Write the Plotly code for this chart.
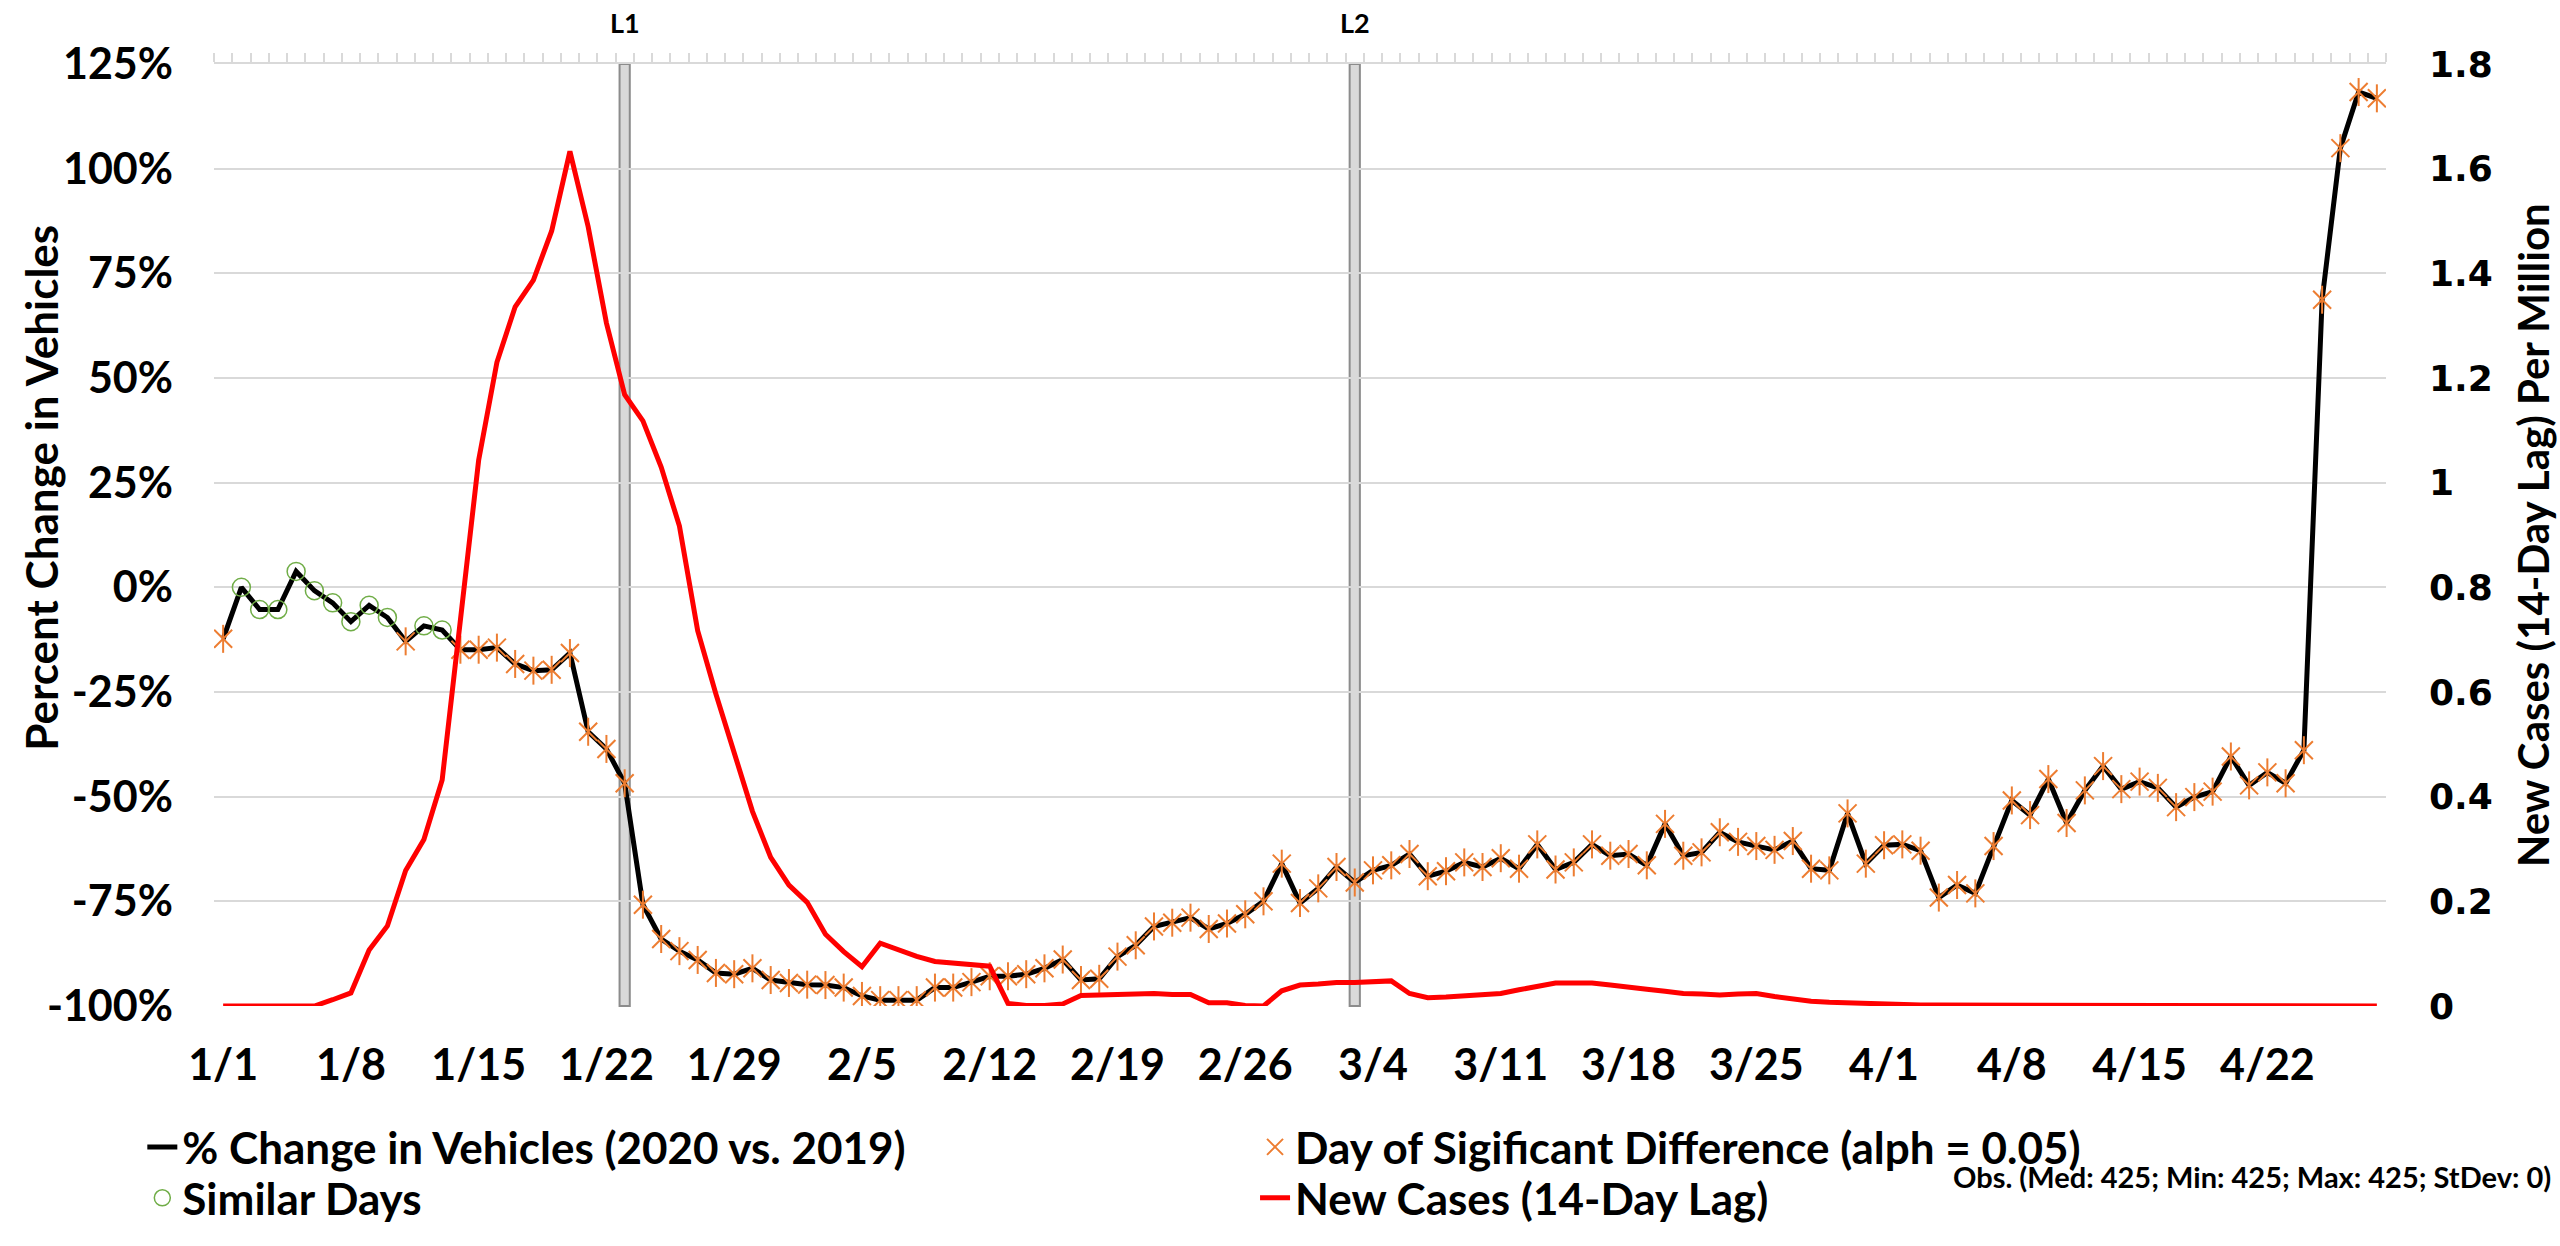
import pandas as pd
import plotly.graph_objects as go

# ------------------------------------------------------------------ #
#  Data                                 #
# ------------------------------------------------------------------ #

dates = [f"{d.month}/{d.day}" for d in pd.date_range("2020-01-01", "2020-04-28")]

pct_change = [
    -12.3, 0.0, -5.3, -5.3, 3.8, -0.8, -3.7, -8.2, -4.3, -7.2,
    -12.9, -9.2, -10.2, -14.9, -14.9, -14.4, -18.3, -19.9, -19.7, -15.7,
    -34.5, -38.6, -46.8, -75.8, -84.0, -86.9, -89.0, -92.1, -92.4, -91.0,
    -93.8, -94.5, -94.9, -95.0, -95.6, -97.6, -98.6, -98.6, -98.6, -95.6,
    -95.6, -94.3, -92.9, -92.9, -92.4, -91.0, -88.9, -93.8, -93.5, -88.2,
    -85.5, -81.0, -80.1, -78.9, -81.6, -80.3, -78.1, -75.0, -66.0, -75.4,
    -71.9, -66.8, -70.5, -67.6, -66.4, -63.7, -69.0, -67.8, -65.7, -66.8,
    -64.7, -67.2, -61.4, -67.4, -65.7, -61.4, -64.1, -63.7, -66.4, -56.5,
    -64.1, -63.3, -58.5, -60.8, -61.8, -62.7, -60.6, -67.2, -67.6, -54.0,
    -66.0, -61.6, -61.4, -62.9, -74.1, -71.1, -73.1, -61.8, -50.9, -54.4,
    -45.8, -56.3, -48.5, -42.7, -48.2, -46.4, -47.9, -52.5, -50.1, -48.8,
    -40.4, -47.3, -44.2, -46.8, -38.9, 68.7, 104.9, 118.3, 116.8,
]

new_cases = [
    0, 0, 0, 0, 0, 0, 0.012, 0.025, 0.107, 0.153,
    0.259, 0.318, 0.432, 0.74, 1.043, 1.230, 1.336, 1.387, 1.481, 1.633,
    1.489, 1.305, 1.168, 1.118, 1.030, 0.917, 0.717, 0.596, 0.482, 0.372,
    0.284, 0.231, 0.198, 0.137, 0.104, 0.075, 0.120, 0.107, 0.095, 0.085,
    0.082, 0.080, 0.076, 0.005, 0.001, 0.001, 0.004, 0.020, 0.021, 0.024,
    0.024, 0.024, 0.022, 0.022, 0.006, 0.006, 0.001, 0.0, 0.029, 0.040,
    0.042, 0.045, 0.045, 0.046, 0.048, 0.024, 0.016, 0.017, 0.020, 0.022,
    0.024, 0.031, 0.037, 0.044, 0.044, 0.044, 0.040, 0.037, 0.032, 0.028,
    0.024, 0.023, 0.021, 0.023, 0.024, 0.018, 0.013, 0.009, 0.007, 0.006,
    0.004, 0.002, 0.002, 0.002, 0.002, 0.002, 0.002, 0, 0, 0,
    0, 0, 0, 0, 0, 0, 0, 0, 0, 0,
    0, 0, 0, 0, 0, 0, 0, 0, 0,
]

similar_days = [1, 2, 3, 4, 5, 6, 7, 8, 9, 11, 12]   # indices into dates

lock_labels = ["L1", "L2"]
lock_days = [22, 62]                                   # indices into dates

pct_ticks = [-100, -75, -50, -25, 0, 25, 50, 75, 100, 125]
pct_tick_text = ["-100%", "-75%", "-50%", "-25%", "0%", "25%", "50%", "75%", "100%", "125%"]
case_ticks = [0, 0.2, 0.4, 0.6, 0.8, 1.0, 1.2, 1.4, 1.6, 1.8]
case_tick_text = ["0", "0.2", "0.4", "0.6", "0.8", "1", "1.2", "1.4", "1.6", "1.8"]
week_ticks = dates[::7]

obs_note = "Obs. (Med: 425; Min: 425; Max: 425; StDev: 0)"

# ------------------------------------------------------------------ #
#  Styling                                                             #
# ------------------------------------------------------------------ #

FONT = "Lato"
ORANGE = "#ED7D31"
GREEN = "#70AD47"
GRID = "#D9D9D9"
LEGEND_FONT = dict(family=FONT, size=44, color="black", weight="bold")

sig_y = [None if i in similar_days else v for i, v in enumerate(pct_change)]
sim_y = [v if i in similar_days else None for i, v in enumerate(pct_change)]

fig = go.Figure()

fig.add_trace(go.Scatter(
    x=dates, y=pct_change, mode="lines",
    line=dict(color="black", width=5),
    name="% Change in Vehicles (2020 vs. 2019)", legend="legend",
))
fig.add_trace(go.Scatter(
    x=dates, y=sig_y, mode="markers",
    marker=dict(symbol="x-thin-open", size=18, color=ORANGE,
                line=dict(color=ORANGE, width=2)),
    name="Day of Sigificant Difference (alph = 0.05)", legend="legend2",
))
fig.add_trace(go.Scatter(
    x=dates, y=sig_y, mode="markers",
    marker=dict(symbol="line-ns-open", size=20, color=ORANGE,
                line=dict(color=ORANGE, width=2)),
    showlegend=False, hoverinfo="skip",
))
fig.add_trace(go.Scatter(
    x=dates, y=sim_y, mode="markers",
    marker=dict(symbol="circle-open", size=18, color=GREEN,
                line=dict(color=GREEN, width=1.5)),
    name="Similar Days", legend="legend3",
))
fig.add_trace(go.Scatter(
    x=dates, y=new_cases, mode="lines", yaxis="y2",
    line=dict(color="#FF0000", width=5),
    name="New Cases (14-Day Lag)", legend="legend4",
))
# empty trace so the top (daily tick) axis gets drawn
fig.add_trace(go.Scatter(
    x=[-0.5, len(dates) - 0.5], y=[None, None], xaxis="x2", yaxis="y",
    mode="lines", showlegend=False, hoverinfo="skip",
))

# lockdown bars
for lab, d in zip(lock_labels, lock_days):
    fig.add_shape(
        type="rect", xref="x", yref="paper",
        x0=d - 0.28, x1=d + 0.28, y0=0, y1=1,
        fillcolor="#D9D9D9", line=dict(color="#8C8C8C", width=2),
        layer="between",
    )
    fig.add_annotation(
        x=d, xref="x", y=1.044, yref="paper", text=lab, showarrow=False,
        font=dict(family=FONT, size=27, color="black", weight="bold"),
        xanchor="center", yanchor="middle",
    )

fig.add_annotation(
    x=-0.0797, xref="paper", y=0.55, yref="paper",
    text="Percent Change in Vehicles", textangle=-90, showarrow=False,
    font=dict(family=FONT, size=44, color="black", weight="bold"),
    xanchor="center", yanchor="middle",
)
fig.add_annotation(
    x=1.0677, xref="paper", y=0.5, yref="paper",
    text="New Cases (14-Day Lag) Per Million", textangle=-90, showarrow=False,
    font=dict(family=FONT, size=42, color="black", weight="bold"),
    xanchor="center", yanchor="middle",
)
fig.add_annotation(
    x=0.7998, xref="paper", y=-0.181, yref="paper",
    text=obs_note, showarrow=False,
    font=dict(family=FONT, size=29, color="black", weight="bold"),
    xanchor="left", yanchor="middle",
)


def legend_box(x, y):
    return dict(
        orientation="h", x=x, xanchor="left", y=y, yanchor="middle",
        font=LEGEND_FONT, bgcolor="rgba(0,0,0,0)",
    )


n = len(dates)
fig.update_layout(
    width=2560, height=1246,
    margin=dict(l=214, r=174, t=64, b=218),
    paper_bgcolor="white", plot_bgcolor="white",
    font=dict(family=FONT, color="black"),
    xaxis=dict(
        type="category", range=[-0.5, n - 0.5],
        tickmode="array", tickvals=week_ticks, ticktext=week_ticks,
        tickfont=dict(family=FONT, size=43, weight="bold"),
        ticklabelstandoff=30,
        showgrid=False, showline=False, zeroline=False,
    ),
    xaxis2=dict(
        overlaying="x", side="top", range=[-0.5, n - 0.5],
        tickmode="linear", tick0=-0.5, dtick=1,
        ticks="outside", ticklen=9, tickwidth=2, tickcolor=GRID,
        showline=True, linecolor=GRID, linewidth=2,
        showticklabels=False, showgrid=False, zeroline=False,
    ),
    yaxis=dict(
        range=[-100, 125], tickmode="array",
        tickvals=pct_ticks, ticktext=pct_tick_text,
        tickfont=dict(family=FONT, size=43, weight="bold"),
        ticklabelstandoff=40,
        showgrid=True, gridcolor=GRID, gridwidth=2,
        zeroline=False, showline=False,
    ),
    yaxis2=dict(
        overlaying="y", side="right", range=[0, 1.8], tickmode="array",
        tickvals=case_ticks, ticktext=case_tick_text,
        tickfont=dict(family="DejaVu Sans", size=36, weight="bold"),
        ticklabelstandoff=42,
        showgrid=False, zeroline=False, showline=False,
    ),
    legend=legend_box(-0.033, -0.150),
    legend2=legend_box(0.4793, -0.150),
    legend3=legend_box(-0.033, -0.204),
    legend4=legend_box(0.4793, -0.204),
    showlegend=True,
)

fig.write_html(
    "out.html",
    config={"displayModeBar": False},
    post_script="document.body.style.margin='0';",
)
